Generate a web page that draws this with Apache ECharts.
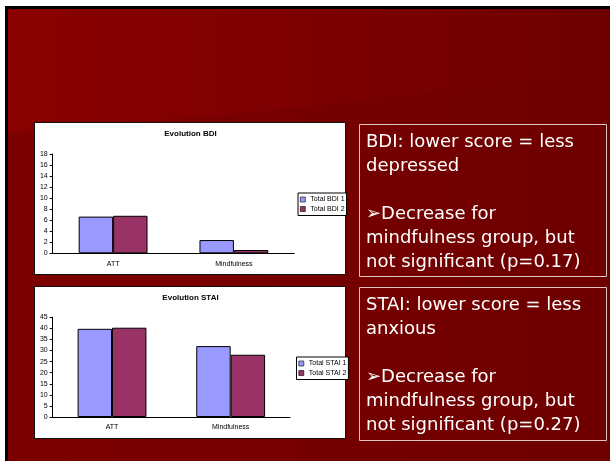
<!DOCTYPE html>
<html><head><meta charset="utf-8">
<script src="https://cdn.jsdelivr.net/npm/echarts@6/dist/echarts.min.js"></script>
<style>html,body{margin:0;padding:0;background:#fff}#c{width:610px;height:461px}</style>
</head><body><div id="c"></div>
<script>
// ---- data ----
const categories = ['ATT', 'Mindfulness'];
const bdiTitle = 'Evolution BDI';
const bdiNames = ['Total BDI 1', 'Total BDI 2'];
const bdi1 = [6.65, 2.4];
const bdi2 = [6.8, 0.6];
const bdiMin = 0, bdiMax = 18, bdiStep = 2;
const staiTitle = 'Evolution STAI';
const staiNames = ['Total STAI 1', 'Total STAI 2'];
const stai1 = [39.8, 32.0];
const stai2 = [40.3, 28.1];
const staiMin = 0, staiMax = 45, staiStep = 5;
const bdiNote = ['BDI: lower score = less', 'depressed', '', '\u27A2Decrease for', 'mindfulness group, but', 'not significant (p=0.17)'];
const staiNote = ['STAI: lower score = less', 'anxious', '', '\u27A2Decrease for', 'mindfulness group, but', 'not significant (p=0.27)'];

// ---- styling ----
const FF = '"Liberation Sans", Arial, sans-serif';
const colors = ['#9999ff', '#993366'];
const chart = echarts.init(document.getElementById('c'), null, {renderer: 'canvas'});

function axisX(gridIndex) {
  return {
    type: 'category', gridIndex, data: categories,
    axisLine: {lineStyle: {color: '#000', width: 1}},
    axisTick: {length: 3, lineStyle: {color: '#000'}},
    axisLabel: {color: '#000', fontSize: 7, fontFamily: FF, margin: 7},
    splitLine: {show: false}
  };
}
function axisY(gridIndex, min, max, step) {
  return {
    type: 'value', gridIndex, min, max, interval: step,
    axisLine: {show: true, lineStyle: {color: '#000', width: 1}},
    axisTick: {show: true, length: 3, lineStyle: {color: '#000'}},
    axisLabel: {color: '#000', fontSize: 7, fontFamily: FF, margin: 5},
    splitLine: {show: false}
  };
}
function bar(name, data, idx, axis, gap) {
  return {
    type: 'bar', name, data, xAxisIndex: axis, yAxisIndex: axis,
    barGap: '0%', barCategoryGap: gap,
    itemStyle: {color: colors[idx], borderColor: '#000', borderWidth: 1},
    emphasis: {disabled: true}
  };
}
function legend(names, left, top) {
  return {
    data: names, orient: 'vertical', left, top,
    padding: [3, 2, 3, 2], itemWidth: 5, itemHeight: 5, itemGap: 2.5,
    borderColor: '#000', borderWidth: 1, backgroundColor: '#fff',
    icon: 'rect', textStyle: {fontSize: 7, color: '#000', fontFamily: FF},
    itemStyle: {borderColor: '#000', borderWidth: 0.6},
    selectedMode: false
  };
}
function noteText(lines, top) {
  return {
    type: 'text', z: 5,
    style: {
      text: lines.join('\n'), x: 366, y: top,
      fill: '#fff', font: '18px "DejaVu Sans"', lineHeight: 24,
      verticalAlign: 'top', align: 'left'
    }
  };
}
// decorative swoosh outline (background only)
const swoosh = [];
for (let i = 0; i <= 20; i++) {
  const t = i / 20;
  const x = (1 - t) * (1 - t) * 8 + 2 * (1 - t) * t * 300 + t * t * 610;
  const y = (1 - t) * (1 - t) * 133 + 2 * (1 - t) * t * 112 + t * t * 70;
  swoosh.push([x, y]);
}
swoosh.push([610, 461], [8, 461]);

const option = {
  animation: false,
  backgroundColor: '#fff',
  title: [
    {text: bdiTitle, left: 190.5, top: 130, textAlign: 'center', padding: 0,
     textStyle: {fontSize: 8, fontWeight: 'bold', color: '#000', fontFamily: FF}},
    {text: staiTitle, left: 190.5, top: 294, textAlign: 'center', padding: 0,
     textStyle: {fontSize: 8, fontWeight: 'bold', color: '#000', fontFamily: FF}}
  ],
  legend: [legend(bdiNames, 298, 193), legend(staiNames, 296.5, 357)],
  grid: [
    {left: 52.7, top: 154, width: 241.6, height: 99.3},
    {left: 52.7, top: 317.3, width: 237.3, height: 99.7}
  ],
  xAxis: [axisX(0), axisX(1)],
  yAxis: [axisY(0, bdiMin, bdiMax, bdiStep), axisY(1, staiMin, staiMax, staiStep)],
  series: [
    bar(bdiNames[0], bdi1, 0, 0, '43%'),
    bar(bdiNames[1], bdi2, 1, 0, '43%'),
    bar(staiNames[0], stai1, 0, 1, '42%'),
    bar(staiNames[1], stai2, 1, 1, '42%')
  ],
  graphic: [
    {type: 'rect', z: -10, silent: true, shape: {x: 5, y: 6, width: 605, height: 455}, style: {fill: '#000'}},
    {type: 'rect', z: -9, silent: true, shape: {x: 8, y: 9, width: 602, height: 452},
     style: {fill: {type: 'linear', x: 0, y: 0, x2: 1, y2: 0, colorStops: [
       {offset: 0, color: '#8a0000'}, {offset: 0.5, color: '#7d0000'}, {offset: 1, color: '#6e0000'}]}}},
    {type: 'polygon', z: -8, silent: true,
     shape: {points: swoosh},
     style: {fill: {type: 'linear', x: 0, y: 0, x2: 1, y2: 0, colorStops: [
       {offset: 0, color: '#7c0000'}, {offset: 0.5, color: '#760000'}, {offset: 1, color: '#6e0000'}]}}},
    {type: 'rect', z: -5, silent: true, shape: {x: 34.5, y: 122.5, width: 311, height: 152},
     style: {fill: '#fff', stroke: '#111', lineWidth: 1}},
    {type: 'rect', z: -5, silent: true, shape: {x: 34.5, y: 286.5, width: 311, height: 152},
     style: {fill: '#fff', stroke: '#111', lineWidth: 1}},
    {type: 'rect', z: -5, silent: true, shape: {x: 359.5, y: 124.5, width: 247, height: 152},
     style: {fill: 'none', stroke: '#dcc4c4', lineWidth: 1}},
    {type: 'rect', z: -5, silent: true, shape: {x: 359.5, y: 287.5, width: 247, height: 153},
     style: {fill: 'none', stroke: '#dcc4c4', lineWidth: 1}},
    noteText(bdiNote, 130),
    noteText(staiNote, 293.4)
  ]
};
chart.setOption(option);
</script>
</body></html>
